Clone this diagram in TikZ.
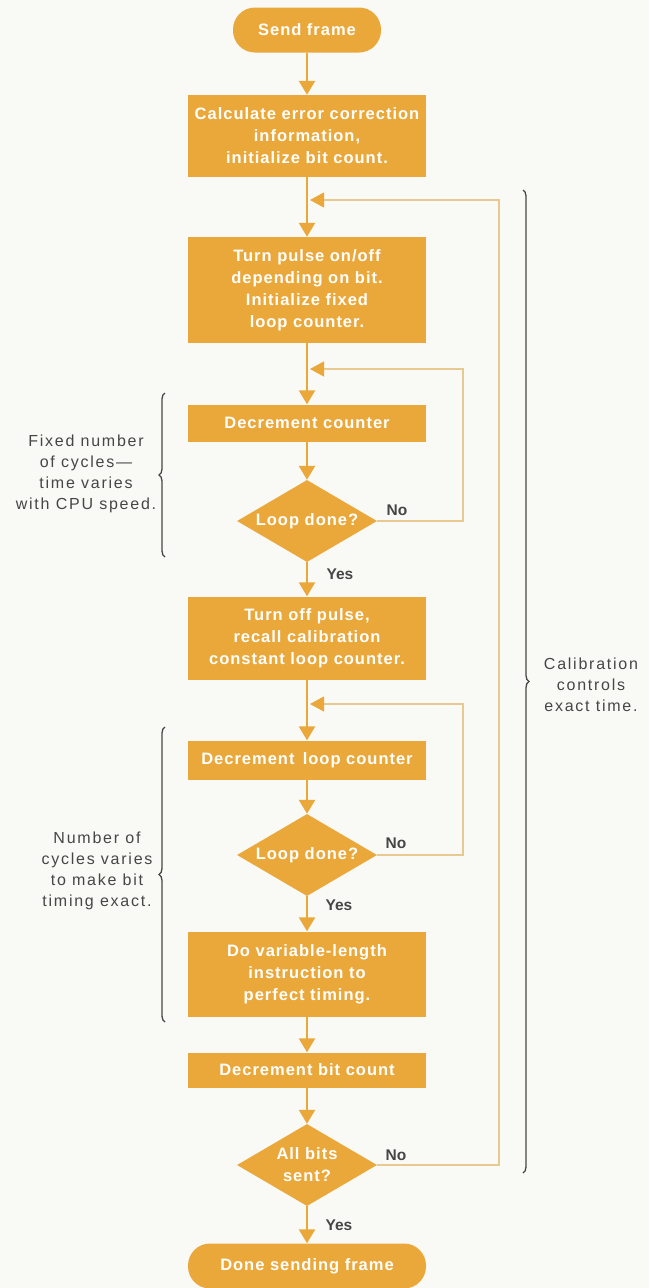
\documentclass[tikz,border=0pt]{standalone}
\usepackage{fontspec}
\setmainfont{Liberation Sans}
\newfontfamily\BoxFont{Liberation Sans}[LetterSpace=6]
\newfontfamily\NoteFont{Liberation Sans}[LetterSpace=11]
\usetikzlibrary{arrows.meta,shapes.geometric,decorations.pathreplacing}

\definecolor{FlowOrange}{RGB}{235,168,58}
\definecolor{LoopTan}{RGB}{232,202,145}
\definecolor{NoteGray}{RGB}{70,70,70}
\definecolor{PaperWhite}{RGB}{249,249,245}

\begin{document}
\begin{tikzpicture}[
    % Environment Config
    x=1pt, y=-1pt,
    ProcBox/.style={% Style for the process boxes
      rectangle,
      fill=FlowOrange,
      text=white,
      minimum width=238pt,
      inner sep=2pt,
      align=center,
      font={\BoxFont\bfseries\fontsize{16.5}{22}\selectfont}
    },
    Terminal/.style={% Style for start and end
      ProcBox,
      rounded corners=22pt
    },
    Decision/.style={% Style for the tests
      diamond,
      aspect=1.7,
      fill=FlowOrange,
      text=white,
      inner sep=0pt,
      minimum width=140pt,
      minimum height=82pt,
      align=center,
      font={\BoxFont\bfseries\fontsize{16.5}{22}\selectfont}
    },
    FlowArrow/.style={% Style for the main flow
      -{Triangle[width=16pt,length=14pt]},
      FlowOrange,
      line width=2.5pt
    },
    LoopLine/.style={% Style for the loops back
      -{Triangle[width=15pt,length=14pt,color=FlowOrange]},
      LoopTan,
      line width=1.2pt,
      shorten >= 3pt
    },
    Answer/.style={% Yes / No marks
      text=NoteGray,
      font={\bfseries\fontsize{15.5}{18}\selectfont}
    },
    Note/.style={% Side comments
      text=NoteGray,
      align=center,
      font={\NoteFont\fontsize{16}{21}\selectfont}
    },
    BraceLine/.style={% Curly brackets
      decorate,
      decoration={brace,amplitude=6pt},
      NoteGray,
      line width=1.3pt
    }
  ]

  % Paper
  \fill[PaperWhite] (0,0) rectangle (649,1288);
  \useasboundingbox (0,0) rectangle (649,1288);

  % Put the boxes in position
  \node[Terminal, minimum width=148pt, minimum height=45pt] (start) at (307,30) {Send frame};
  \node[ProcBox, minimum height=82pt] (calc) at (307,136)
      {Calculate error correction\\information,\\initialize bit count.};
  \node[ProcBox, minimum height=106pt] (pulse) at (307,290)
      {Turn pulse on/off\\depending on bit.\\Initialize fixed\\loop counter.};
  \node[ProcBox, minimum height=37pt] (dec1) at (307,423) {Decrement counter};
  \node[Decision] (loop1) at (307,521) {Loop done?};
  \node[ProcBox, minimum height=83pt] (off) at (307,638)
      {Turn off pulse,\\recall calibration\\constant loop counter.};
  \node[ProcBox, minimum height=39pt] (dec2) at (307,760) {Decrement\, loop counter};
  \node[Decision] (loop2) at (307,855) {Loop done?};
  \node[ProcBox, minimum height=85pt] (var) at (307,974)
      {Do variable-length\\instruction to\\perfect timing.};
  \node[ProcBox, minimum height=35pt] (decbit) at (307,1070) {Decrement bit count};
  \node[Decision] (allbits) at (307,1165) {All bits\\sent?};
  \node[Terminal, minimum height=45pt] (done) at (307,1266) {Done sending frame};

  % Points where the loops come back
  \coordinate (m1) at (307,200);
  \coordinate (m2) at (307,369);
  \coordinate (m3) at (307,704);
  \coordinate (c1) at (499,200);
  \coordinate (c2) at (463,369);
  \coordinate (c3) at (463,704);

  % Main flow
  \draw[FlowArrow] (start) -- (calc);
  \draw[FlowArrow] (calc) -- (pulse);
  \draw[FlowArrow] (pulse) -- (dec1);
  \draw[FlowArrow] (dec1) -- (loop1);
  \draw[FlowArrow] (loop1) -- (off);
  \draw[FlowArrow] (off) -- (dec2);
  \draw[FlowArrow] (dec2) -- (loop2);
  \draw[FlowArrow] (loop2) -- (var);
  \draw[FlowArrow] (var) -- (decbit);
  \draw[FlowArrow] (decbit) -- (allbits);
  \draw[FlowArrow] (allbits) -- (done);

  % Loops
  \draw[LoopLine] (loop1.east) -| (c2) -- (m2);
  \draw[LoopLine] (loop2.east) -| (c3) -- (m3);
  \draw[LoopLine] (allbits.east) -| (c1) -- (m1);

  % Yes / No
  \node[Answer] (no1) at (397,510) {No};
  \node[Answer] (yes1) at (340,574) {Yes};
  \node[Answer] (no2) at (396,843) {No};
  \node[Answer] (yes2) at (339,905) {Yes};
  \node[Answer] (no3) at (396,1155) {No};
  \node[Answer] (yes3) at (339,1225) {Yes};

  %===Brackets===
  \draw[BraceLine] (165,557) -- (165,393);
  \draw[BraceLine] (165,1022) -- (165,727);
  \draw[BraceLine] (523,190) -- (523,1173);

  %===Comments===
  \node[Note] (fixed) at (86,474)
      {Fixed number\\of cycles\textemdash\\time varies\\with CPU speed.};
  \node[Note] (varies) at (97,871)
      {Number of\\cycles varies\\to make bit\\timing exact.};
  \node[Note] (calib) at (591,685)
      {Calibration\\controls\\exact time.};

\end{tikzpicture}
\end{document}
